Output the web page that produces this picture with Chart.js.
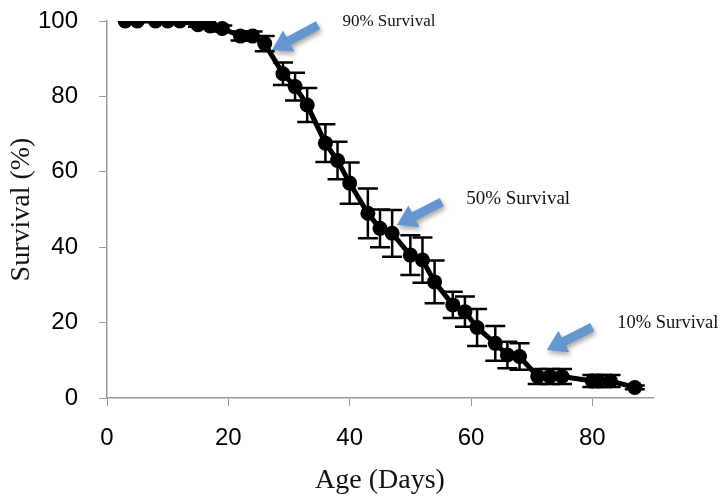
<!DOCTYPE html>
<html>
<head>
<meta charset="utf-8">
<script src="https://cdn.jsdelivr.net/npm/chart.js@4/dist/chart.umd.min.js"></script>
<style>
  html, body { margin: 0; padding: 0; background: #ffffff; }
  #wrap { width: 722px; height: 498px; }
</style>
</head>
<body>
<div id="wrap"><canvas id="c" width="722" height="498"></canvas></div>
<script>
// Survival curve: age in days, percent surviving, and the error (±) at each reading
const ageDays = [3, 5, 8, 10, 12, 15, 17, 19, 22, 24, 26, 29, 31, 33, 36, 38, 40, 43, 45, 47,
                 50, 52, 54, 57, 59, 61, 64, 66, 68, 71, 73, 75, 80, 81, 83, 87];
const survivalPct = [100, 100, 100, 100, 100, 99, 98.7, 98, 96, 96, 94, 86, 82.6, 77.7, 67.6, 63, 57, 49, 45, 43.7,
                     37.9, 36.6, 30.8, 24.7, 22.9, 18.7, 14.5, 11.4, 11, 5.7, 5.7, 5.7, 4.5, 4.5, 4.5, 2.8];
const survivalErr = [0, 0, 0, 0, 0, 0.5, 0.5, 0.8, 1.2, 1.2, 2, 3, 3.7, 4.5, 5, 5, 5.5, 6.6, 5, 6.2,
                     5.3, 6, 5.7, 3.5, 4, 4.9, 4.6, 3.5, 3.5, 2, 2, 2, 1.6, 1.6, 1.6, 0.5];

const xTickValues = [0, 20, 40, 60, 80];
const yTickValues = [0, 20, 40, 60, 80, 100];

// Callouts marking the 90 %, 50 % and 10 % survival points (positions in axis units)
const callouts = [
  { text: '90% Survival', size: 17, textAt: [38.8, 99.8], tail: [34.8, 98.9], tip: [27.2, 92.3] },
  { text: '50% Survival', size: 19, textAt: [59.2, 52.8], tail: [55.2, 52.0], tip: [47.8, 45.9] },
  { text: '10% Survival', size: 18.5, textAt: [84.1, 19.9], tail: [80.0, 18.8], tip: [72.5, 12.7] }
];

const points = ageDays.map((d, i) => ({ x: d, y: survivalPct[i] }));

const errorBars = {
  id: 'errorBars',
  beforeDatasetsDraw(chart) {
    const { ctx, scales: { x, y } } = chart;
    ctx.save();
    ctx.strokeStyle = '#000';
    ctx.lineWidth = 2.5;
    const cap = 10;
    ageDays.forEach((d, i) => {
      const e = survivalErr[i];
      if (!e) return;
      const px = x.getPixelForValue(d);
      const top = y.getPixelForValue(survivalPct[i] + e);
      const bot = y.getPixelForValue(survivalPct[i] - e);
      ctx.beginPath();
      ctx.moveTo(px, top); ctx.lineTo(px, bot);
      ctx.moveTo(px - cap, top); ctx.lineTo(px + cap, top);
      ctx.moveTo(px - cap, bot); ctx.lineTo(px + cap, bot);
      ctx.stroke();
    });
    ctx.restore();
  }
};

function blockArrow(ctx, x0, y0, x1, y1, shaftW, headL, headW) {
  const dx = x1 - x0, dy = y1 - y0, len = Math.hypot(dx, dy);
  const ux = dx / len, uy = dy / len, nx = -uy, ny = ux;
  const bx = x1 - ux * headL, by = y1 - uy * headL;
  ctx.beginPath();
  ctx.moveTo(x0 + nx * shaftW / 2, y0 + ny * shaftW / 2);
  ctx.lineTo(bx + nx * shaftW / 2, by + ny * shaftW / 2);
  ctx.lineTo(bx + nx * headW / 2, by + ny * headW / 2);
  ctx.lineTo(x1, y1);
  ctx.lineTo(bx - nx * headW / 2, by - ny * headW / 2);
  ctx.lineTo(bx - nx * shaftW / 2, by - ny * shaftW / 2);
  ctx.lineTo(x0 - nx * shaftW / 2, y0 - ny * shaftW / 2);
  ctx.closePath();
  ctx.fill();
}

const calloutPlugin = {
  id: 'callouts',
  afterDatasetsDraw(chart) {
    const { ctx, scales: { x, y } } = chart;
    callouts.forEach(c => {
      ctx.save();
      ctx.fillStyle = '#6596cf';
      ctx.shadowColor = 'rgba(0,0,0,0.35)';
      ctx.shadowBlur = 5;
      ctx.shadowOffsetX = 1.5;
      ctx.shadowOffsetY = 3;
      blockArrow(ctx,
        x.getPixelForValue(c.tail[0]), y.getPixelForValue(c.tail[1]),
        x.getPixelForValue(c.tip[0]), y.getPixelForValue(c.tip[1]),
        9, 19, 24);
      ctx.restore();
      ctx.save();
      ctx.fillStyle = '#111';
      ctx.font = c.size + 'px "Liberation Serif", "Times New Roman", serif';
      ctx.textAlign = 'left';
      ctx.textBaseline = 'middle';
      ctx.fillText(c.text, x.getPixelForValue(c.textAt[0]), y.getPixelForValue(c.textAt[1]));
      ctx.restore();
    });
  }
};

const axisGrey = '#9a9a9a';
const tickFont = { family: '"Liberation Sans", Arial, sans-serif', size: 24 };
const titleFont = { family: '"Liberation Serif", "Times New Roman", serif', size: 28 };

new Chart(document.getElementById('c'), {
  type: 'scatter',
  data: {
    datasets: [{
      data: points,
      showLine: true,
      borderColor: '#000',
      borderWidth: 5,
      backgroundColor: '#000',
      pointRadius: 7.5,
      pointHoverRadius: 7.5,
      pointBorderWidth: 0
    }]
  },
  options: {
    responsive: false,
    animation: false,
    devicePixelRatio: 1,
    layout: { padding: { top: 21, right: 69, left: 0, bottom: 0 } },
    plugins: { legend: { display: false }, tooltip: { enabled: false } },
    scales: {
      x: {
        type: 'linear', min: 0, max: 90,
        afterFit(s) { s.height = 100; s.paddingLeft = 0; s.paddingRight = 0; },
        afterBuildTicks(s) { s.ticks = xTickValues.map(v => ({ value: v })); },
        grid: { display: true, drawOnChartArea: false, drawTicks: true, tickLength: 8, color: axisGrey, lineWidth: 1 },
        border: { display: true, color: axisGrey, width: 1.5 },
        ticks: { color: '#000', font: tickFont, padding: 18, maxRotation: 0 },
        title: { display: true, text: 'Age (Days)', color: '#111', font: titleFont, padding: { top: 0, bottom: 1 } }
      },
      y: {
        type: 'linear', min: 0, max: 100,
        afterFit(s) { s.width = 107; s.paddingTop = 0; s.paddingBottom = 0; },
        afterBuildTicks(s) { s.ticks = yTickValues.map(v => ({ value: v })); },
        grid: { display: true, drawOnChartArea: false, drawTicks: true, tickLength: 8, color: axisGrey, lineWidth: 1 },
        border: { display: true, color: axisGrey, width: 1.5 },
        ticks: { color: '#000', font: tickFont, padding: 21 },
        title: { display: true, text: 'Survival (%)', color: '#111', font: titleFont, padding: { top: 5, bottom: 0 } }
      }
    }
  },
  plugins: [errorBars, calloutPlugin]
});
</script>
</body>
</html>
